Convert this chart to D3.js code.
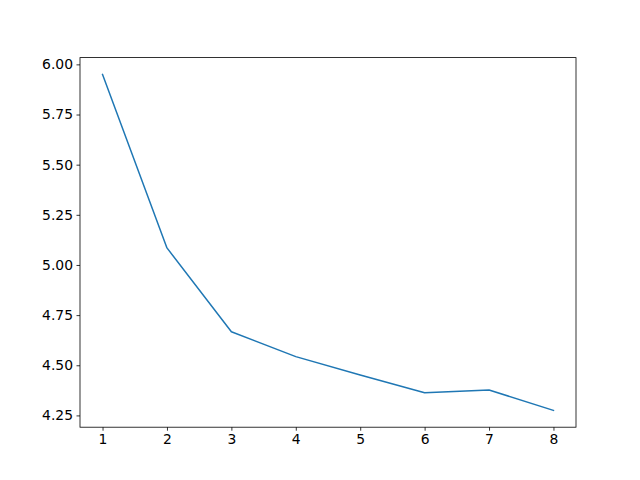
<!DOCTYPE html>
<html><head><meta charset="utf-8">
<script src="https://cdn.jsdelivr.net/npm/d3@7"></script>
<style>body{margin:0;background:#fff}svg{display:block}</style>
</head><body>
<script>
const xValues = [1, 2, 3, 4, 5, 6, 7, 8];
const yValues = [5.95, 5.085, 4.667, 4.543, 4.451, 4.363, 4.377, 4.275];
const yTicks = [4.25, 4.50, 4.75, 5.00, 5.25, 5.50, 5.75, 6.00];
const xTicks = [1, 2, 3, 4, 5, 6, 7, 8];

const W = 640, H = 480;
const L = 80, R = 576, T = 57.6, B = 427.2;
const svg = d3.select("body").append("svg").attr("width", W).attr("height", H);

const xmin = d3.min(xValues), xmax = d3.max(xValues);
const xm = (xmax - xmin) * 0.05;
const ymin = d3.min(yValues), ymax = d3.max(yValues);
const ym = (ymax - ymin) * 0.05;
const x = d3.scaleLinear().domain([xmin - xm, xmax + xm]).range([L, R]);
const y = d3.scaleLinear().domain([ymin - ym, ymax + ym]).range([B, T]);

const font = "DejaVu Sans";
const xAxis = svg.append("g").attr("transform", `translate(0,${B})`)
  .call(d3.axisBottom(x).tickValues(xTicks).tickSize(3.5).tickPadding(3.5).tickFormat(d3.format("d")));
const yAxis = svg.append("g").attr("transform", `translate(${L},0)`)
  .call(d3.axisLeft(y).tickValues(yTicks).tickSize(3.5).tickPadding(3.5).tickFormat(d3.format(".2f")));
[xAxis, yAxis].forEach(a => {
  a.select(".domain").remove();
  a.selectAll(".tick line").attr("stroke", "#000").attr("stroke-width", 0.8);
  a.selectAll(".tick text").attr("font-family", font).attr("font-size", "13.9px").attr("fill", "#000");
});

const line = d3.line().x((d, i) => x(xValues[i])).y(d => y(d));
svg.append("path").datum(yValues).attr("d", line)
  .attr("fill", "none").attr("stroke", "#1f77b4").attr("stroke-width", 1.5)
  .attr("stroke-linejoin", "round").attr("stroke-linecap", "square");

svg.append("rect").attr("x", L).attr("y", T).attr("width", R - L).attr("height", B - T)
  .attr("fill", "none").attr("stroke", "#000").attr("stroke-width", 0.8);
</script>
</body></html>
